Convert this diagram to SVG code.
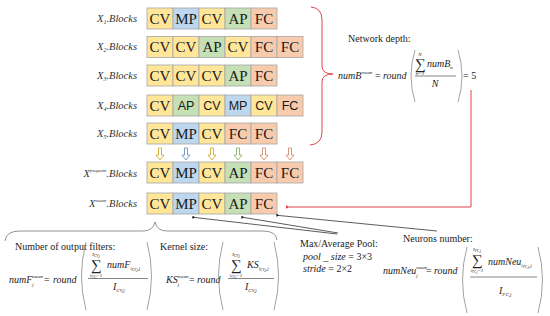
<svg xmlns="http://www.w3.org/2000/svg" width="550" height="316" viewBox="0 0 550 316">
<defs>
<style>
.bx rect{stroke:#A5A5A5;stroke-width:0.8}
.cv{fill:#FFE699}.mp{fill:#BDD7EE}.ap{fill:#C5E0B4}.fc{fill:#F8CBAD}
.bx text{font-family:"Liberation Serif","Times New Roman","DejaVu Serif",serif;font-size:15px;text-anchor:middle;fill:#1a1a1a}
.bx text.s{font-family:"Liberation Sans",Arial,sans-serif;font-size:12.5px}
.bx text.lbl{font-family:"Liberation Serif","Times New Roman",serif;font-style:italic;font-size:10.5px;text-anchor:end;fill:#333}
.t{font-family:"Liberation Serif","Times New Roman",serif;font-size:10px;fill:#222}
.m{font-family:"Liberation Serif","Times New Roman",serif;font-style:italic;font-size:10px;fill:#222}
.n{font-family:"Liberation Serif","DejaVu Serif",serif;font-size:10px;fill:#222}
.sg{font-family:"Liberation Serif","DejaVu Serif",serif;font-size:15px;fill:#222;text-anchor:middle}
.lim{font-family:"Liberation Serif","Times New Roman",serif;font-style:italic;font-size:5px;fill:#222;text-anchor:middle}
.sm{font-size:5px}
.par{fill:none;stroke:#8a8a8a;stroke-width:0.8}
.fr{stroke:#333;stroke-width:0.6}
.ar{stroke-width:0.9;fill:#fff}
.con{stroke:#333;stroke-width:0.8;fill:none}
.red{stroke:#E0434F;stroke-width:1;fill:none}
</style>
<marker id="dk" viewBox="0 0 6 6" refX="1" refY="3" markerWidth="4" markerHeight="4" orient="auto"><path d="M0,3 L6,0 L6,6 z" fill="#222"/></marker>
<marker id="rd" viewBox="0 0 6 6" refX="1" refY="3" markerWidth="4" markerHeight="4" orient="auto"><path d="M0,3 L6,0 L6,6 z" fill="#E0434F"/></marker>
</defs>
<rect width="550" height="316" fill="#fff"/>

<g id="row1" class="bx">
<text class="lbl" x="137" y="21.5">X<tspan font-size="6" dy="2">1</tspan><tspan dy="-2">.Blocks</tspan></text>
<rect class="cv" x="147" y="8" width="26" height="21"/><rect class="mp" x="173" y="8" width="26" height="21"/><rect class="cv" x="199" y="8" width="26" height="21"/><rect class="ap" x="225" y="8" width="26" height="21"/><rect class="fc" x="251" y="8" width="26" height="21"/>
<text x="160" y="23.5">CV</text><text x="186" y="23.5">MP</text><text x="212" y="23.5">CV</text><text x="238" y="23.5">AP</text><text x="264" y="23.5">FC</text>
</g>
<g id="row2" class="bx">
<text class="lbl" x="137" y="50">X<tspan font-size="6" dy="2">2</tspan><tspan dy="-2">.Blocks</tspan></text>
<rect class="cv" x="147" y="36.5" width="26" height="21"/><rect class="cv" x="173" y="36.5" width="26" height="21"/><rect class="ap" x="199" y="36.5" width="26" height="21"/><rect class="cv" x="225" y="36.5" width="26" height="21"/><rect class="fc" x="251" y="36.5" width="26" height="21"/><rect class="fc" x="277" y="36.5" width="26" height="21"/>
<text x="160" y="52">CV</text><text x="186" y="52">CV</text><text x="212" y="52">AP</text><text x="238" y="52">CV</text><text x="264" y="52">FC</text><text x="290" y="52">FC</text>
</g>
<g id="row3" class="bx">
<text class="lbl" x="137" y="79">X<tspan font-size="6" dy="2">3</tspan><tspan dy="-2">.Blocks</tspan></text>
<rect class="cv" x="147" y="65" width="26" height="21"/><rect class="cv" x="173" y="65" width="26" height="21"/><rect class="cv" x="199" y="65" width="26" height="21"/><rect class="ap" x="225" y="65" width="26" height="21"/><rect class="fc" x="251" y="65" width="26" height="21"/>
<text x="160" y="80.5">CV</text><text x="186" y="80.5">CV</text><text x="212" y="80.5">CV</text><text x="238" y="80.5">AP</text><text x="264" y="80.5">FC</text>
</g>
<g id="row4" class="bx">
<text class="lbl" x="137" y="108.5">X<tspan font-size="6" dy="2">4</tspan><tspan dy="-2">.Blocks</tspan></text>
<rect class="cv" x="147" y="95" width="26" height="21"/><rect class="ap" x="173" y="95" width="26" height="21"/><rect class="cv" x="199" y="95" width="26" height="21"/><rect class="mp" x="225" y="95" width="26" height="21"/><rect class="cv" x="251" y="95" width="26" height="21"/><rect class="fc" x="277" y="95" width="26" height="21"/>
<text x="160" y="110.5">CV</text><text class="s" x="186" y="110">AP</text><text class="s" x="212" y="110">CV</text><text class="s" x="238" y="110">MP</text><text class="s" x="264" y="110">CV</text><text class="s" x="290" y="110">FC</text>
</g>
<g id="row5" class="bx">
<text class="lbl" x="137" y="137">X<tspan font-size="6" dy="2">5</tspan><tspan dy="-2">.Blocks</tspan></text>
<rect class="cv" x="147" y="123" width="26" height="21"/><rect class="mp" x="173" y="123" width="26" height="21"/><rect class="cv" x="199" y="123" width="26" height="21"/><rect class="fc" x="225" y="123" width="26" height="21"/><rect class="fc" x="251" y="123" width="26" height="21"/>
<text x="160" y="138.5">CV</text><text x="186" y="138.5">MP</text><text x="212" y="138.5">CV</text><text x="238" y="138.5">FC</text><text x="264" y="138.5">FC</text>
</g>
<g id="rowFrequent" class="bx">
<text class="lbl" x="137" y="177">X<tspan font-size="5" dy="-5">frequent</tspan><tspan dy="5">.Blocks</tspan></text>
<rect class="cv" x="147" y="162" width="26" height="21"/><rect class="mp" x="173" y="162" width="26" height="21"/><rect class="cv" x="199" y="162" width="26" height="21"/><rect class="ap" x="225" y="162" width="26" height="21"/><rect class="fc" x="251" y="162" width="26" height="21"/><rect class="fc" x="277" y="162" width="26" height="21"/>
<text x="160" y="177.5">CV</text><text x="186" y="177.5">MP</text><text x="212" y="177.5">CV</text><text x="238" y="177.5">AP</text><text x="264" y="177.5">FC</text><text x="290" y="177.5">FC</text>
</g>
<g id="rowMean" class="bx">
<text class="lbl" x="137" y="206.5">X<tspan font-size="5" dy="-5">mean</tspan><tspan dy="5">.Blocks</tspan></text>
<rect class="cv" x="147" y="193" width="26" height="21"/><rect class="mp" x="173" y="193" width="26" height="21"/><rect class="cv" x="199" y="193" width="26" height="21"/><rect class="ap" x="225" y="193" width="26" height="21"/><rect class="fc" x="251" y="193" width="26" height="21"/>
<text x="160" y="208.5">CV</text><text x="186" y="208.5">MP</text><text x="212" y="208.5">CV</text><text x="238" y="208.5">AP</text><text x="264" y="208.5">FC</text>
</g>

<g id="connectors">
<path class="ar" stroke="#D9AE2A" d="M158.5,148 h3 v7 h2.5 l-4,5 l-4,-5 h2.5 z"/>
<path class="ar" stroke="#6F8FC4" d="M184.5,148 h3 v7 h2.5 l-4,5 l-4,-5 h2.5 z"/>
<path class="ar" stroke="#D9AE2A" d="M210.5,148 h3 v7 h2.5 l-4,5 l-4,-5 h2.5 z"/>
<path class="ar" stroke="#86B56A" d="M236.5,148 h3 v7 h2.5 l-4,5 l-4,-5 h2.5 z"/>
<path class="ar" stroke="#D98A66" d="M262.5,148 h3 v7 h2.5 l-4,5 l-4,-5 h2.5 z"/>
<path class="ar" stroke="#D98A66" d="M288.5,148 h3 v7 h2.5 l-4,5 l-4,-5 h2.5 z"/>
<path class="red" d="M311,7 Q322,8 322,20 L322,66 Q322,74 333,74 Q322,74 322,82 L322,132 Q322,144 310,145"/>
<path class="red" d="M471,90 L471,207 L289,207" marker-end="url(#rd)"/>
<path class="con" d="M337,234 L195,217.5" marker-end="url(#dk)"/>
<path class="con" d="M338,233 L244,217.5" marker-end="url(#dk)"/>
<path class="con" d="M437,231 L279,215.5" marker-end="url(#dk)"/>
<path fill="none" stroke="#777" stroke-width="0.8" d="M5,241 Q6,231 20,231 L143,231 Q153,231 155,222 Q157,231 167,231 L263,231 Q276,231 277,240"/>
</g>

<g id="depth">
<text class="t" x="348" y="42">Network depth:</text>
<text class="m" x="338" y="79">numB<tspan class="sm" dy="-5">mean</tspan></text>
<text class="n" x="375" y="79">=</text>
<text class="m" x="383" y="79">round</text>
<path class="par" d="M415,50 Q407,76 415,102"/>
<text class="lim" x="420" y="56">N</text>
<text class="sg" x="420" y="68.5" font-size="14">∑</text>
<text class="lim" x="420" y="74.5">n=1</text>
<text class="m" x="427" y="67">numB<tspan class="sm" dy="2">n</tspan></text>
<line class="fr" x1="415" y1="76" x2="456" y2="76"/>
<text class="m" x="435" y="87" text-anchor="middle">N</text>
<path class="par" d="M458,50 Q466,76 458,102"/>
<text class="n" x="463" y="79">= 5</text>
</g>

<g id="filters">
<text class="t" x="15" y="250">Number of output filters:</text>
<text class="m" x="9" y="283" font-size="10.5">numF<tspan class="sm" dy="3">j</tspan><tspan class="sm" dx="-1.5" dy="-8">mean</tspan></text>
<text class="n" x="44" y="283">=</text>
<text class="m" x="53" y="283" font-size="10.5">round</text>
<path class="par" d="M86,242 Q77,276 86,310"/>
<text class="lim" x="96" y="256">I<tspan font-size="3.5" dy="1">CV,j</tspan></text>
<text class="sg" x="96" y="270">∑</text>
<text class="lim" x="96" y="276.5" font-size="4">i<tspan font-size="3" dy="1">CV,j</tspan><tspan dy="-1">=1</tspan></text>
<text class="m" x="107" y="268">numF<tspan class="sm" dy="2">i<tspan font-size="3.5" dy="1">CV,j</tspan><tspan dy="-1">,j</tspan></tspan></text>
<line class="fr" x1="88" y1="278.5" x2="148" y2="278.5"/>
<text class="m" x="113" y="289.5">I<tspan class="sm" dy="2">CV,j</tspan></text>
<path class="par" d="M147,242 Q156,276 147,310"/>
</g>

<g id="kernel">
<text class="t" x="160" y="250">Kernel size:</text>
<text class="m" x="166" y="283" font-size="10.5">KS<tspan class="sm" dy="3">j</tspan><tspan class="sm" dx="-1.5" dy="-8">mean</tspan></text>
<text class="n" x="189" y="283">=</text>
<text class="m" x="197" y="283">round</text>
<path class="par" d="M223,242 Q214,276 223,310"/>
<text class="lim" x="236" y="256">I<tspan font-size="3.5" dy="1">CV,j</tspan></text>
<text class="sg" x="236" y="270">∑</text>
<text class="lim" x="236" y="276.5" font-size="4">i<tspan font-size="3" dy="1">CV,j</tspan><tspan dy="-1">=1</tspan></text>
<text class="m" x="247" y="268">KS<tspan class="sm" dy="2">i<tspan font-size="3.5" dy="1">CV,j</tspan><tspan dy="-1">,j</tspan></tspan></text>
<line class="fr" x1="228" y1="278.5" x2="274" y2="278.5"/>
<text class="m" x="245" y="289.5">I<tspan class="sm" dy="2">CV,j</tspan></text>
<path class="par" d="M274,242 Q283,276 274,310"/>
</g>

<g id="pool">
<text class="t" x="300" y="247">Max/Average Pool:</text>
<text class="m" x="303" y="260">pool _ size <tspan font-style="normal">= 3×3</tspan></text>
<text class="m" x="303" y="272">stride <tspan font-style="normal">= 2×2</tspan></text>
</g>

<g id="neurons">
<text class="t" x="403" y="242">Neurons number:</text>
<text class="m" x="383" y="274">numNeu<tspan class="sm" dy="3">j</tspan><tspan class="sm" dx="-1.5" dy="-8">mean</tspan></text>
<text class="n" x="426" y="274">=</text>
<text class="m" x="434" y="274">round</text>
<path class="par" d="M467,247 Q458,280 467,313"/>
<text class="lim" x="477" y="251">I<tspan font-size="3.5" dy="1">FC,j</tspan></text>
<text class="sg" x="477" y="265">∑</text>
<text class="lim" x="477" y="272" font-size="4">i<tspan font-size="3" dy="1">FC,j</tspan><tspan dy="-1">=1</tspan></text>
<text class="m" x="488" y="265">numNeu<tspan class="sm" dy="2">i<tspan font-size="3.5" dy="1">FC,j</tspan><tspan dy="-1">,j</tspan></tspan></text>
<line class="fr" x1="470" y1="277" x2="537" y2="277"/>
<text class="m" x="499" y="294">I<tspan class="sm" dy="2">FC,j</tspan></text>
<path class="par" d="M538,247 Q547,280 538,313"/>
</g>
</svg>
